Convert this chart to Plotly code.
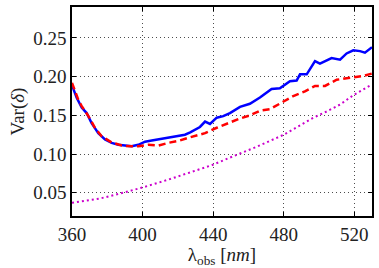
import plotly.graph_objects as go

blue_x = [360, 362.6, 365.5, 368.3, 371.1, 374.9, 378.7, 382.5, 386.2, 390, 393.8, 397.6, 401.4, 405.2,
          408.9, 412.7, 416.5, 420.2, 424, 427, 432.5, 435.4, 438.2, 442, 445.7, 449.5, 455.2, 460.8,
          466.5, 473.1, 477.8, 483.5, 487.3, 489.2, 493, 497.7, 500.5, 507.1, 511.9, 515.6, 519.4,
          523.2, 526, 530]
blue_y = [0.189, 0.173, 0.160, 0.153, 0.140, 0.127, 0.119, 0.1145, 0.112, 0.111, 0.110, 0.112, 0.116, 0.1175,
          0.119, 0.120, 0.122, 0.123, 0.125, 0.128, 0.135, 0.142, 0.139, 0.147, 0.149, 0.153, 0.161, 0.165,
          0.173, 0.184, 0.185, 0.194, 0.195, 0.203, 0.203, 0.220, 0.217, 0.224, 0.222, 0.230, 0.234,
          0.233, 0.231, 0.238]

red_x = [360, 363.6, 365.5, 369.3, 373, 376.8, 382.5, 388.2, 393.8, 397.6, 403.3, 408.9, 414.6, 420.2,
         425.9, 428.7, 435.4, 442, 449.5, 455.2, 460.8, 466.5, 472.2, 477.8, 485.4, 492, 497.7, 503.4,
         510, 515.6, 521.3, 525, 530]
red_y = [0.192, 0.170, 0.162, 0.149, 0.134, 0.123, 0.115, 0.111, 0.110, 0.110, 0.112, 0.111, 0.1145, 0.117,
         0.121, 0.123, 0.127, 0.134, 0.141, 0.146, 0.150, 0.156, 0.158, 0.165, 0.175, 0.181, 0.188, 0.188,
         0.196, 0.198, 0.200, 0.201, 0.204]

mag_x = [360, 375.9, 387.2, 399.9, 413.7, 426.8, 439.2, 451.4, 464.6, 480, 489.2, 496.8, 504.3, 511.9,
         519.4, 530]
mag_y = [0.037, 0.0426, 0.049, 0.0568, 0.0663, 0.0758, 0.0856, 0.0972, 0.1094, 0.125, 0.137, 0.147,
         0.155, 0.164, 0.176, 0.190]

x_ticks = [360, 400, 440, 480, 520]
y_ticks = [0.05, 0.10, 0.15, 0.20, 0.25]

font_family = "Liberation Serif"

fig = go.Figure()
fig.add_trace(go.Scatter(x=mag_x, y=mag_y, mode="lines",
                         line=dict(color="#cc00cc", width=2, dash="2px,3px")))
fig.add_trace(go.Scatter(x=blue_x, y=blue_y, mode="lines",
                         line=dict(color="#0000ff", width=2.5)))
fig.add_trace(go.Scatter(x=red_x, y=red_y, mode="lines",
                         line=dict(color="#ff0000", width=2.5, dash="7px,4px")))

axis_common = dict(
    showline=True, linecolor="black", linewidth=1.5, mirror="ticks",
    ticks="inside", ticklen=4, tickcolor="black",
    showgrid=True, gridcolor="rgba(0,0,0,0.7)", gridwidth=1, griddash="1px,3px",
    zeroline=False, automargin=False,
    tickfont=dict(family=font_family, size=19, color="#222"),
)

fig.update_layout(
    width=379, height=268,
    margin=dict(l=72, r=7, t=7, b=52),
    paper_bgcolor="white", plot_bgcolor="white",
    showlegend=False,
    font=dict(family=font_family, color="#222"),
    xaxis=dict(range=[360, 530], tickvals=x_ticks, ticktext=[str(v) for v in x_ticks],
               title=dict(text="λ<sub>obs</sub> [<i>nm</i>]", font=dict(family=font_family, size=19), standoff=2),
               **axis_common),
    yaxis=dict(range=[0.02, 0.29], tickvals=y_ticks, ticktext=["%.2f" % v for v in y_ticks],
               title=dict(text="Var(<i>δ</i>)", font=dict(family=font_family, size=19), standoff=4),
               **axis_common),
)

fig.write_html("out.html", config={"displayModeBar": False},
               post_script="document.body.style.margin='0';document.body.style.padding='0';")
